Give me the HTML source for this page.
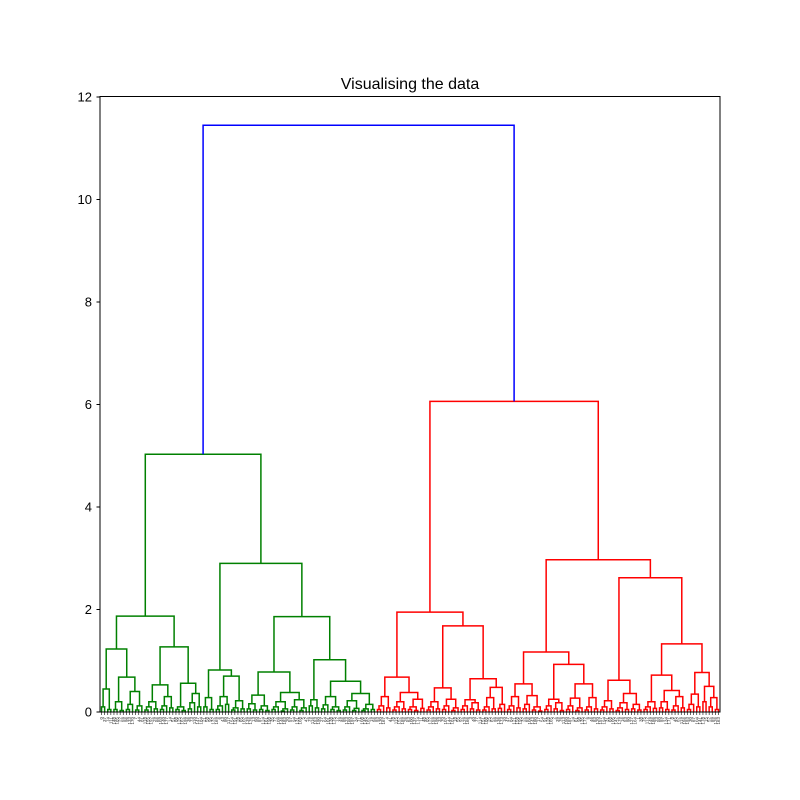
<!DOCTYPE html>
<html><head><meta charset="utf-8"><style>
body{margin:0;background:#fff;}
svg{display:block;font-family:"Liberation Sans","DejaVu Sans",sans-serif;}
</style></head><body>
<svg id="chart" width="800" height="800">
<rect x="0" y="0" width="800" height="800" fill="#fff"/>
<text x="410" y="89" font-size="16" text-anchor="middle">Visualising the data</text>
<g id="links"></g>
<g id="yaxis"></g>
<g id="xlabels"></g>
<rect x="100" y="96.5" width="620" height="615.5" fill="none" stroke="#000" stroke-width="1"/>
</svg>
<script>
// Cluster subtrees: [mergeHeight, left, right]; 0 = a leaf
const clusterA=[0.45,[0.1,0,0],[0.05,0,0]];
const clusterB=[0.68,[0.2,[0.05,0,0],[0.03,0,0]],[0.4,[0.15,[0.05,0,0],0],[0.12,[0.04,0,0],0]]];
const clusterC=[0.53,[0.2,[0.1,[0.04,0,0],0],[0.06,0,0]],[0.3,[0.12,[0.05,0,0],0],[0.08,0,0]]];
const clusterD=[0.56,[0.1,[0.05,0,0],[0.03,0,0]],[0.36,[0.18,[0.06,0,0],0],[0.1,0,0]]];
const clusterE=[0.82,[0.28,[0.1,0,0],[0.05,0,0]],[0.7,[0.3,[0.12,[0.05,0,0],0],[0.15,0,0]],[0.22,[0.08,[0.04,0,0],0],[0.06,0,0]]]];
const clusterF=[0.78,[0.33,[0.16,[0.06,0,0],[0.04,0,0]],[0.12,[0.05,0,0],[0.03,0,0]]],[0.38,[0.2,[0.1,[0.05,0,0],0],[0.06,[0.02,0,0],0]],[0.24,[0.1,[0.04,0,0],0],[0.08,[0.03,0,0],0]]]];
const clusterG=[1.02,[0.24,[0.12,0,0],[0.08,0,0]],[0.6,[0.3,[0.14,[0.06,0,0],0],[0.1,[0.05,0,0],[0.03,0,0]]],[0.36,[0.22,[0.1,[0.04,0,0],0],[0.07,[0.03,0,0],0]],[0.15,[0.06,[0.03,0,0],0],[0.05,0,0]]]]];
const clusterH=[0.68,[0.3,[0.12,[0.05,0,0],0],[0.08,0,0]],[0.38,[0.2,[0.1,[0.04,0,0],0],[0.06,0,0]],[0.25,[0.1,[0.05,0,0],[0.03,0,0]],[0.07,0,0]]]];
const clusterI=[0.47,[0.2,[0.1,[0.04,0,0],0],[0.06,0,0]],[0.25,[0.12,[0.05,0,0],0],[0.08,[0.03,0,0],0]]];
const clusterJ=[0.65,[0.24,[0.12,[0.05,0,0],0],[0.18,[0.06,0,0],[0.04,0,0]]],[0.48,[0.28,[0.1,[0.04,0,0],0],[0.06,0,0]],[0.15,[0.07,0,0],0]]];
const clusterK=[0.55,[0.3,[0.12,[0.05,0,0],0],[0.08,0,0]],[0.32,[0.15,[0.06,0,0],0],[0.1,[0.04,0,0],[0.02,0,0]]]];
const clusterL=[0.93,[0.25,[0.12,[0.05,0,0],0],[0.18,[0.06,0,0],[0.03,0,0]]],[0.55,[0.27,[0.12,[0.05,0,0],0],[0.08,[0.03,0,0],0]],[0.28,[0.1,[0.04,0,0],0],[0.06,0,0]]]];
const clusterM=[0.62,[0.22,[0.1,[0.04,0,0],0],[0.06,0,0]],[0.36,[0.18,[0.08,[0.03,0,0],0],[0.05,0,0]],[0.15,[0.06,0,0],[0.04,0,0]]]];
const clusterN=[0.72,[0.2,[0.1,[0.05,0,0],0],[0.07,0,0]],[0.42,[0.2,[0.08,0,0],[0.05,0,0]],[0.3,[0.12,[0.04,0,0],0],[0.08,0,0]]]];
const clusterO=[0.77,[0.35,[0.15,[0.05,0,0],0],[0.1,0,0]],[0.5,[0.2,0,0],[0.28,[0.1,0,0],[0.05,0,0]]]];
const greenTree=[5.03,[1.87,[1.23,clusterA,clusterB],[1.27,clusterC,clusterD]],[2.9,clusterE,[1.86,clusterF,clusterG]]];
const redTree=[6.06,[1.95,clusterH,[1.68,clusterI,clusterJ]],[2.97,[1.17,clusterK,clusterL],[2.62,clusterM,[1.33,clusterN,clusterO]]]];
const rootHeight=[11.45];
const yTicks=[0,2,4,6,8,10,12];

const NS="http://www.w3.org/2000/svg";
const X0=100,X1=720,Y0=712,Y1=97.0,YMAX=12;
function countLeaves(n){return Array.isArray(n)?countLeaves(n[1])+countLeaves(n[2]):1;}
const nLeaves=countLeaves(greenTree)+countLeaves(redTree);
const xScale=d=>X0+d/(nLeaves*10)*(X1-X0);
const yScale=v=>Y0-v/YMAX*(Y0-Y1);
const links=document.getElementById('links');
let leafIdx=0;
function drawU(xl,hl,xr,hr,h,color){
  const p=document.createElementNS(NS,'polyline');
  p.setAttribute('points',`${xScale(xl)},${yScale(hl)} ${xScale(xl)},${yScale(h)} ${xScale(xr)},${yScale(h)} ${xScale(xr)},${yScale(hr)}`);
  p.setAttribute('fill','none');p.setAttribute('stroke',color);p.setAttribute('stroke-width','1.5');
  
  
  links.appendChild(p);
}
function layout(n,color){
  if(!Array.isArray(n)){const x=5+10*leafIdx;leafIdx++;return {x:x,h:0};}
  const l=layout(n[1],color),r=layout(n[2],color);
  drawU(l.x,l.h,r.x,r.h,n[0],color);
  return {x:(l.x+r.x)/2,h:n[0]};
}
const g=layout(greenTree,'#008000');
const r=layout(redTree,'#ff0000');
drawU(g.x,g.h,r.x,r.h,rootHeight[0],'#0000ff');

const ya=document.getElementById('yaxis');
yTicks.forEach(v=>{
  const y=yScale(v);
  const t=document.createElementNS(NS,'line');
  t.setAttribute('x1',96.5);t.setAttribute('x2',100);t.setAttribute('y1',y);t.setAttribute('y2',y);t.setAttribute('stroke','#000');
  
  
  ya.appendChild(t);
  const tx=document.createElementNS(NS,'text');
  tx.setAttribute('x',92);tx.setAttribute('y',y+4.5);tx.setAttribute('font-size','13');tx.setAttribute('text-anchor','end');
  tx.textContent=v;
  
  
  ya.appendChild(tx);
});
const xl=document.getElementById('xlabels');
for(let i=0;i<nLeaves;i++){
  const x=xScale(5+10*i);
  const tk=document.createElementNS(NS,'line');
  tk.setAttribute('x1',x);tk.setAttribute('x2',x);tk.setAttribute('y1',712);tk.setAttribute('y2',715);tk.setAttribute('stroke','#000');tk.setAttribute('stroke-width','0.6');
  
  
  xl.appendChild(tk);
  const t=document.createElementNS(NS,'text');
  t.setAttribute('font-size','4.5');t.setAttribute('text-anchor','end');t.setAttribute('fill','#333');
  t.setAttribute('transform',`translate(${x+1.5},717) rotate(-90)`);
  t.textContent=String((i*37)%200);
  
  
  xl.appendChild(t);
}
</script>
</body></html>
